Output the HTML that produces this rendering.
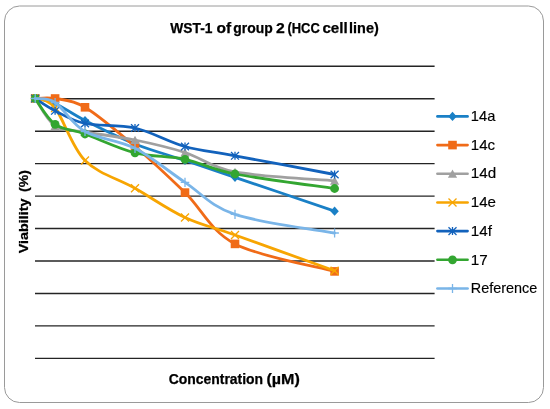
<!DOCTYPE html>
<html><head><meta charset="utf-8"><style>
html,body{margin:0;padding:0;background:#fff;width:550px;height:409px;overflow:hidden}
svg{display:block;will-change:transform}
text{font-family:"Liberation Sans",sans-serif}
</style></head><body>
<svg width="550" height="409" viewBox="0 0 550 409">
<rect x="0" y="0" width="550" height="409" fill="#fff"/>
<rect x="4.5" y="6" width="539" height="396.5" rx="15" ry="15" fill="#fff" stroke="#9a9a9a" stroke-width="1"/>

<line x1="35" y1="66.30" x2="434.6" y2="66.30" stroke="#242424" stroke-width="1.4"/>
<line x1="35" y1="98.75" x2="434.6" y2="98.75" stroke="#242424" stroke-width="1.4"/>
<line x1="35" y1="131.20" x2="434.6" y2="131.20" stroke="#242424" stroke-width="1.4"/>
<line x1="35" y1="163.65" x2="434.6" y2="163.65" stroke="#242424" stroke-width="1.4"/>
<line x1="35" y1="196.10" x2="434.6" y2="196.10" stroke="#242424" stroke-width="1.4"/>
<line x1="35" y1="228.55" x2="434.6" y2="228.55" stroke="#242424" stroke-width="1.4"/>
<line x1="35" y1="261.00" x2="434.6" y2="261.00" stroke="#242424" stroke-width="1.4"/>
<line x1="35" y1="293.45" x2="434.6" y2="293.45" stroke="#242424" stroke-width="1.4"/>
<line x1="35" y1="325.90" x2="434.6" y2="325.90" stroke="#242424" stroke-width="1.4"/>
<line x1="35" y1="358.35" x2="434.6" y2="358.35" stroke="#242424" stroke-width="1.4"/>
<text x="170.30" y="32.9" font-size="14.4" font-weight="bold" fill="#000" stroke="#000" stroke-width="0.25" textLength="42.10" lengthAdjust="spacingAndGlyphs">WST-1</text>
<text x="216.50" y="32.9" font-size="14.4" font-weight="bold" fill="#000" stroke="#000" stroke-width="0.25" textLength="14.66" lengthAdjust="spacingAndGlyphs">of</text>
<text x="233.30" y="32.9" font-size="14.4" font-weight="bold" fill="#000" stroke="#000" stroke-width="0.25" textLength="39.40" lengthAdjust="spacingAndGlyphs">group</text>
<text x="276.00" y="32.9" font-size="14.4" font-weight="bold" fill="#000" stroke="#000" stroke-width="0.25" textLength="8.80" lengthAdjust="spacingAndGlyphs">2</text>
<text x="287.40" y="32.9" font-size="14.4" font-weight="bold" fill="#000" stroke="#000" stroke-width="0.25" textLength="32.40" lengthAdjust="spacingAndGlyphs">(HCC</text>
<text x="322.40" y="32.9" font-size="14.4" font-weight="bold" fill="#000" stroke="#000" stroke-width="0.25" textLength="25.23" lengthAdjust="spacingAndGlyphs">cell</text>
<text x="349.10" y="32.9" font-size="14.4" font-weight="bold" fill="#000" stroke="#000" stroke-width="0.25" textLength="29.71" lengthAdjust="spacingAndGlyphs">line)</text>
<text x="168.7" y="383.9" font-size="14" font-weight="bold" fill="#000" stroke="#000" stroke-width="0.25" textLength="94.4" lengthAdjust="spacingAndGlyphs">Concentration</text>
<text x="266.4" y="383.9" font-size="14" font-weight="bold" fill="#000" stroke="#000" stroke-width="0.25" textLength="33.4" lengthAdjust="spacingAndGlyphs">(µM)</text>
<text transform="translate(28.4,253.2) rotate(-90)" x="0" y="0" font-size="12.6" font-weight="bold" fill="#000" stroke="#000" stroke-width="0.25" textLength="54.7" lengthAdjust="spacingAndGlyphs">Viability</text>
<text transform="translate(28.4,191.9) rotate(-90)" x="0" y="0" font-size="12.6" font-weight="bold" fill="#000" stroke="#000" stroke-width="0.25" textLength="21.8" lengthAdjust="spacingAndGlyphs">(%)</text>
<path d="M35.20,98.50 C38.52,99.33 46.80,99.83 55.10,103.50 C63.40,107.17 71.68,113.75 85.00,120.50 C98.32,127.25 118.33,137.33 135.00,144.00 C151.67,150.67 168.33,154.95 185.00,160.50 C201.67,166.05 210.07,168.85 235.00,177.30 C259.93,185.75 318.00,205.55 334.60,211.20" fill="none" stroke="#1A80C6" stroke-width="2.8" stroke-linejoin="round" stroke-linecap="round"/>
<path d="M35.2,93.9 L39.400000000000006,98.5 L35.2,103.1 L31.000000000000004,98.5 Z" fill="#1A80C6"/>
<path d="M55.1,98.9 L59.300000000000004,103.5 L55.1,108.1 L50.9,103.5 Z" fill="#1A80C6"/>
<path d="M85.0,115.9 L89.2,120.5 L85.0,125.1 L80.8,120.5 Z" fill="#1A80C6"/>
<path d="M135.0,139.4 L139.2,144.0 L135.0,148.6 L130.8,144.0 Z" fill="#1A80C6"/>
<path d="M185.0,155.9 L189.2,160.5 L185.0,165.1 L180.8,160.5 Z" fill="#1A80C6"/>
<path d="M235.0,172.70000000000002 L239.2,177.3 L235.0,181.9 L230.8,177.3 Z" fill="#1A80C6"/>
<path d="M334.6,206.6 L338.8,211.2 L334.6,215.79999999999998 L330.40000000000003,211.2 Z" fill="#1A80C6"/>
<path d="M35.20,98.50 C38.52,98.50 46.80,97.03 55.10,98.50 C63.40,99.97 71.68,99.30 85.00,107.30 C98.32,115.30 118.33,132.28 135.00,146.50 C151.67,160.72 168.33,176.37 185.00,192.60 C201.67,208.83 210.07,230.77 235.00,243.90 C259.93,257.03 318.00,266.82 334.60,271.40" fill="none" stroke="#F06B18" stroke-width="2.8" stroke-linejoin="round" stroke-linecap="round"/>
<rect x="30.900000000000002" y="94.2" width="8.6" height="8.6" fill="#F06B18"/>
<rect x="50.800000000000004" y="94.2" width="8.6" height="8.6" fill="#F06B18"/>
<rect x="80.7" y="103.0" width="8.6" height="8.6" fill="#F06B18"/>
<rect x="130.7" y="142.2" width="8.6" height="8.6" fill="#F06B18"/>
<rect x="180.7" y="188.29999999999998" width="8.6" height="8.6" fill="#F06B18"/>
<rect x="230.7" y="239.6" width="8.6" height="8.6" fill="#F06B18"/>
<rect x="330.3" y="267.09999999999997" width="8.6" height="8.6" fill="#F06B18"/>
<path d="M35.20,98.50 C38.52,103.08 46.80,120.42 55.10,126.00 C63.40,131.58 71.68,129.67 85.00,132.00 C98.32,134.33 118.33,136.58 135.00,140.00 C151.67,143.42 168.33,147.17 185.00,152.50 C201.67,157.83 210.07,167.28 235.00,172.00 C259.93,176.72 318.00,179.33 334.60,180.80" fill="none" stroke="#A0A0A0" stroke-width="2.8" stroke-linejoin="round" stroke-linecap="round"/>
<path d="M35.2,94.3 L39.800000000000004,102.5 L30.6,102.5 Z" fill="#A0A0A0"/>
<path d="M55.1,121.8 L59.7,130.0 L50.5,130.0 Z" fill="#A0A0A0"/>
<path d="M85.0,127.8 L89.6,136.0 L80.4,136.0 Z" fill="#A0A0A0"/>
<path d="M135.0,135.8 L139.6,144.0 L130.4,144.0 Z" fill="#A0A0A0"/>
<path d="M185.0,148.3 L189.6,156.5 L180.4,156.5 Z" fill="#A0A0A0"/>
<path d="M235.0,167.8 L239.6,176.0 L230.4,176.0 Z" fill="#A0A0A0"/>
<path d="M334.6,176.60000000000002 L339.20000000000005,184.8 L330.0,184.8 Z" fill="#A0A0A0"/>
<path d="M35.20,98.50 C38.52,100.08 46.80,97.67 55.10,108.00 C63.40,118.33 71.68,147.12 85.00,160.50 C98.32,173.88 118.33,178.80 135.00,188.30 C151.67,197.80 168.33,209.72 185.00,217.50 C201.67,225.28 210.07,226.12 235.00,235.00 C259.93,243.88 318.00,264.83 334.60,270.80" fill="none" stroke="#F7A502" stroke-width="2.8" stroke-linejoin="round" stroke-linecap="round"/>
<path d="M31.200000000000003,94.5 L39.2,102.5 M39.2,94.5 L31.200000000000003,102.5" stroke="#F7A502" stroke-width="1.25" fill="none"/>
<path d="M51.1,104.0 L59.1,112.0 M59.1,104.0 L51.1,112.0" stroke="#F7A502" stroke-width="1.25" fill="none"/>
<path d="M81.0,156.5 L89.0,164.5 M89.0,156.5 L81.0,164.5" stroke="#F7A502" stroke-width="1.25" fill="none"/>
<path d="M131.0,184.3 L139.0,192.3 M139.0,184.3 L131.0,192.3" stroke="#F7A502" stroke-width="1.25" fill="none"/>
<path d="M181.0,213.5 L189.0,221.5 M189.0,213.5 L181.0,221.5" stroke="#F7A502" stroke-width="1.25" fill="none"/>
<path d="M231.0,231.0 L239.0,239.0 M239.0,231.0 L231.0,239.0" stroke="#F7A502" stroke-width="1.25" fill="none"/>
<path d="M330.6,266.8 L338.6,274.8 M338.6,266.8 L330.6,274.8" stroke="#F7A502" stroke-width="1.25" fill="none"/>
<path d="M35.20,98.50 C38.52,100.55 46.80,106.63 55.10,110.80 C63.40,114.97 71.68,120.63 85.00,123.50 C98.32,126.37 118.33,124.17 135.00,128.00 C151.67,131.83 168.33,141.87 185.00,146.50 C201.67,151.13 210.07,151.13 235.00,155.80 C259.93,160.47 318.00,171.38 334.60,174.50" fill="none" stroke="#1262BC" stroke-width="2.8" stroke-linejoin="round" stroke-linecap="round"/>
<path d="M31.200000000000003,94.7 L39.2,102.3 M39.2,94.7 L31.200000000000003,102.3 M35.2,94.5 L35.2,102.5" stroke="#1262BC" stroke-width="1.3" fill="none"/>
<path d="M51.1,107.0 L59.1,114.6 M59.1,107.0 L51.1,114.6 M55.1,106.8 L55.1,114.8" stroke="#1262BC" stroke-width="1.3" fill="none"/>
<path d="M81.0,119.7 L89.0,127.3 M89.0,119.7 L81.0,127.3 M85.0,119.5 L85.0,127.5" stroke="#1262BC" stroke-width="1.3" fill="none"/>
<path d="M131.0,124.2 L139.0,131.8 M139.0,124.2 L131.0,131.8 M135.0,124.0 L135.0,132.0" stroke="#1262BC" stroke-width="1.3" fill="none"/>
<path d="M181.0,142.7 L189.0,150.3 M189.0,142.7 L181.0,150.3 M185.0,142.5 L185.0,150.5" stroke="#1262BC" stroke-width="1.3" fill="none"/>
<path d="M231.0,152.0 L239.0,159.60000000000002 M239.0,152.0 L231.0,159.60000000000002 M235.0,151.8 L235.0,159.8" stroke="#1262BC" stroke-width="1.3" fill="none"/>
<path d="M330.6,170.7 L338.6,178.3 M338.6,170.7 L330.6,178.3 M334.6,170.5 L334.6,178.5" stroke="#1262BC" stroke-width="1.3" fill="none"/>
<path d="M35.20,98.50 C38.52,102.80 46.80,118.38 55.10,124.30 C63.40,130.22 71.68,129.25 85.00,134.00 C98.32,138.75 118.33,148.58 135.00,152.80 C151.67,157.02 168.33,155.77 185.00,159.30 C201.67,162.83 210.07,169.13 235.00,174.00 C259.93,178.87 318.00,186.08 334.60,188.50" fill="none" stroke="#33A631" stroke-width="2.8" stroke-linejoin="round" stroke-linecap="round"/>
<circle cx="35.2" cy="98.5" r="4.4" fill="#33A631"/>
<circle cx="55.1" cy="124.3" r="4.4" fill="#33A631"/>
<circle cx="85.0" cy="134.0" r="4.4" fill="#33A631"/>
<circle cx="135.0" cy="152.8" r="4.4" fill="#33A631"/>
<circle cx="185.0" cy="159.3" r="4.4" fill="#33A631"/>
<circle cx="235.0" cy="174.0" r="4.4" fill="#33A631"/>
<circle cx="334.6" cy="188.5" r="4.4" fill="#33A631"/>
<path d="M35.20,98.50 C38.52,99.17 46.80,97.00 55.10,102.50 C63.40,108.00 71.68,123.87 85.00,131.50 C98.32,139.13 118.33,139.83 135.00,148.30 C151.67,156.77 168.33,171.28 185.00,182.30 C201.67,193.32 210.07,205.95 235.00,214.40 C259.93,222.85 318.00,229.90 334.60,233.00" fill="none" stroke="#7AB5E8" stroke-width="2.8" stroke-linejoin="round" stroke-linecap="round"/>
<path d="M30.900000000000002,98.5 L39.5,98.5 M35.2,93.9 L35.2,103.1" stroke="#7AB5E8" stroke-width="1.3" fill="none"/>
<path d="M50.800000000000004,102.5 L59.4,102.5 M55.1,97.9 L55.1,107.1" stroke="#7AB5E8" stroke-width="1.3" fill="none"/>
<path d="M80.7,131.5 L89.3,131.5 M85.0,126.9 L85.0,136.1" stroke="#7AB5E8" stroke-width="1.3" fill="none"/>
<path d="M130.7,148.3 L139.3,148.3 M135.0,143.70000000000002 L135.0,152.9" stroke="#7AB5E8" stroke-width="1.3" fill="none"/>
<path d="M180.7,182.3 L189.3,182.3 M185.0,177.70000000000002 L185.0,186.9" stroke="#7AB5E8" stroke-width="1.3" fill="none"/>
<path d="M230.7,214.4 L239.3,214.4 M235.0,209.8 L235.0,219.0" stroke="#7AB5E8" stroke-width="1.3" fill="none"/>
<path d="M330.3,233.0 L338.90000000000003,233.0 M334.6,228.4 L334.6,237.6" stroke="#7AB5E8" stroke-width="1.3" fill="none"/>
<line x1="437.4" y1="116.40" x2="467.6" y2="116.40" stroke="#1A80C6" stroke-width="2.6" stroke-linecap="round"/>
<path d="M452.5,111.80000000000001 L456.7,116.4 L452.5,121.0 L448.3,116.4 Z" fill="#1A80C6"/>
<text x="470.8" y="121.10" font-size="14.2" fill="#000" stroke="#000" stroke-width="0.15" textLength="24.5" lengthAdjust="spacingAndGlyphs">14a</text>
<line x1="437.4" y1="145.08" x2="467.6" y2="145.08" stroke="#F06B18" stroke-width="2.6" stroke-linecap="round"/>
<rect x="448.2" y="140.78" width="8.6" height="8.6" fill="#F06B18"/>
<text x="470.8" y="149.78" font-size="14.2" fill="#000" stroke="#000" stroke-width="0.15" textLength="24.3" lengthAdjust="spacingAndGlyphs">14c</text>
<line x1="437.4" y1="173.76" x2="467.6" y2="173.76" stroke="#A0A0A0" stroke-width="2.6" stroke-linecap="round"/>
<path d="M452.5,169.56 L457.1,177.76 L447.9,177.76 Z" fill="#A0A0A0"/>
<text x="470.8" y="178.46" font-size="14.2" fill="#000" stroke="#000" stroke-width="0.15" textLength="25.4" lengthAdjust="spacingAndGlyphs">14d</text>
<line x1="437.4" y1="202.44" x2="467.6" y2="202.44" stroke="#F7A502" stroke-width="2.6" stroke-linecap="round"/>
<path d="M448.5,198.44 L456.5,206.44 M456.5,198.44 L448.5,206.44" stroke="#F7A502" stroke-width="1.25" fill="none"/>
<text x="470.8" y="207.14" font-size="14.2" fill="#000" stroke="#000" stroke-width="0.15" textLength="25.2" lengthAdjust="spacingAndGlyphs">14e</text>
<line x1="437.4" y1="231.12" x2="467.6" y2="231.12" stroke="#1262BC" stroke-width="2.6" stroke-linecap="round"/>
<path d="M448.5,227.32 L456.5,234.92000000000002 M456.5,227.32 L448.5,234.92000000000002 M452.5,227.12 L452.5,235.12" stroke="#1262BC" stroke-width="1.3" fill="none"/>
<text x="470.8" y="235.82" font-size="14.2" fill="#000" stroke="#000" stroke-width="0.15" textLength="21.1" lengthAdjust="spacingAndGlyphs">14f</text>
<line x1="437.4" y1="259.80" x2="467.6" y2="259.80" stroke="#33A631" stroke-width="2.6" stroke-linecap="round"/>
<circle cx="452.5" cy="259.8" r="4.4" fill="#33A631"/>
<text x="470.8" y="264.50" font-size="14.2" fill="#000" stroke="#000" stroke-width="0.15" textLength="17.0" lengthAdjust="spacingAndGlyphs">17</text>
<line x1="437.4" y1="288.48" x2="467.6" y2="288.48" stroke="#7AB5E8" stroke-width="2.6" stroke-linecap="round"/>
<path d="M448.2,288.48 L456.8,288.48 M452.5,283.88 L452.5,293.08000000000004" stroke="#7AB5E8" stroke-width="1.3" fill="none"/>
<text x="470.8" y="293.18" font-size="14.2" fill="#000" stroke="#000" stroke-width="0.15" textLength="66.4" lengthAdjust="spacingAndGlyphs">Reference</text>
</svg></body></html>
